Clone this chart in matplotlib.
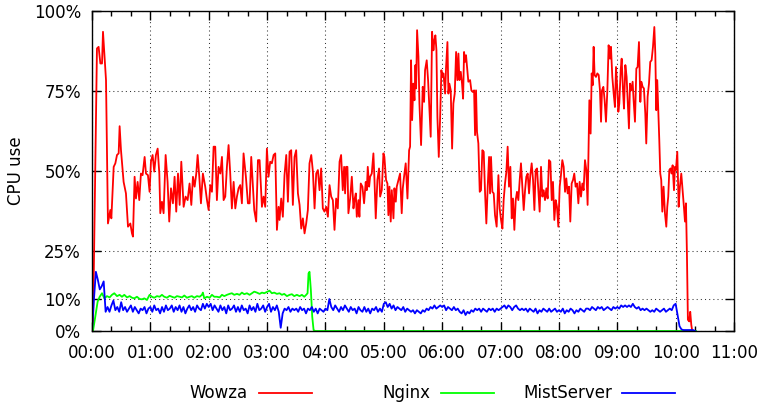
import numpy as np
import matplotlib
matplotlib.use("Agg")
import matplotlib.pyplot as plt
from matplotlib.lines import Line2D

# CPU use over a test run, time in minutes since 00:00, values in percent

# Wowza (red)
wowza_min = [
    0.0, 1.0, 5.1, 6.8, 8.6, 10.3, 11.3, 13.7, 14.4, 16.4,
    18.8, 19.9, 22.3, 24.0, 25.7, 27.4, 28.4, 29.8, 32.5, 34.9,
    37.0, 39.4, 41.1, 42.1, 43.8, 45.2, 46.9, 48.6, 50.3, 52.0,
    54.1, 55.5, 57.5, 59.2, 60.6, 62.3, 64.0, 65.7, 67.5, 69.2,
    70.2, 71.9, 73.6, 75.7, 77.7, 79.4, 81.2, 83.2, 84.9, 86.6,
    88.4, 90.1, 91.8, 94.2, 96.2, 98.3, 100.3, 102.1, 103.8, 105.5,
    107.2, 108.6, 110.3, 112.0, 114.0, 116.4, 118.2, 119.9, 121.6, 123.3,
    125.0, 126.7, 128.4, 130.1, 131.9, 133.6, 135.3, 137.0, 138.7, 140.4,
    142.1, 143.8, 145.6, 147.3, 149.0, 150.7, 152.4, 154.1, 155.8, 158.2,
    160.3, 162.0, 163.7, 165.4, 166.8, 168.8, 170.6, 172.3, 174.7, 176.4,
    178.1, 179.8, 181.5, 183.2, 184.9, 186.7, 188.4, 190.1, 191.8, 192.8,
    194.5, 196.2, 197.9, 199.7, 201.4, 203.1, 204.8, 206.5, 208.2, 209.9,
    211.7, 213.4, 215.1, 216.8, 218.5, 220.2, 221.9, 223.6, 225.4, 227.1,
    228.8, 230.5, 232.2, 233.9, 235.6, 237.3, 239.0, 240.8, 242.5, 244.2,
    245.9, 247.6, 249.3, 251.0, 252.7, 254.5, 256.1, 257.8, 259.2, 260.2,
    261.2, 262.6, 263.6, 265.4, 267.1, 268.8, 269.8, 271.2, 272.2, 273.9,
    274.9, 276.3, 278.0, 279.7, 281.4, 282.5, 283.5, 284.9, 285.9, 287.6,
    289.3, 290.4, 291.7, 293.4, 295.1, 296.2, 297.9, 299.6, 300.6, 302.3,
    303.7, 304.7, 305.8, 307.1, 308.2, 309.9, 310.9, 312.3, 313.3, 315.0,
    316.7, 318.4, 319.5, 320.8, 322.5, 324.3, 326.0, 327.0, 328.0, 329.1,
    330.4, 331.5, 332.5, 333.2, 334.2, 335.6, 336.6, 338.3, 340.0, 341.4,
    342.4, 344.1, 345.5, 346.9, 348.2, 349.6, 351.0, 352.0, 353.0, 354.1,
    355.1, 356.5, 357.8, 359.2, 360.2, 361.3, 363.0, 364.0, 365.4, 366.4,
    367.4, 368.8, 370.2, 371.5, 372.9, 374.3, 375.6, 376.7, 377.7, 379.1,
    380.4, 381.5, 382.5, 383.5, 384.5, 385.6, 386.9, 388.7, 390.0, 391.4,
    392.8, 393.8, 394.8, 395.8, 397.2, 398.6, 399.9, 401.3, 402.7, 404.1,
    405.4, 406.8, 408.2, 409.2, 410.2, 411.6, 413.0, 414.3, 416.0, 417.8,
    419.1, 420.5, 421.9, 423.2, 424.6, 426.0, 427.3, 428.7, 430.1, 431.5,
    432.8, 434.2, 435.6, 436.9, 438.3, 439.7, 441.0, 442.4, 443.8, 445.2,
    446.5, 447.9, 449.3, 450.6, 452.0, 453.4, 454.8, 456.1, 457.5, 458.9,
    460.2, 461.6, 463.0, 464.3, 465.7, 467.1, 468.4, 469.8, 471.2, 472.6,
    473.9, 475.3, 476.7, 478.0, 479.4, 480.8, 482.1, 483.5, 484.9, 486.3,
    487.6, 489.0, 490.4, 491.7, 493.1, 494.5, 495.8, 497.2, 498.6, 500.0,
    501.3, 502.7, 504.1, 505.4, 506.8, 508.2, 509.5, 511.3, 512.6, 513.7,
    514.7, 515.7, 516.7, 518.1, 519.5, 520.9, 522.2, 523.3, 524.3, 525.7,
    527.0, 528.4, 529.8, 531.1, 532.5, 533.5, 534.9, 536.3, 537.6, 538.7,
    540.0, 541.1, 542.1, 543.5, 544.5, 545.9, 546.9, 548.3, 549.6, 550.7,
    552.0, 553.1, 554.4, 555.8, 556.8, 558.2, 559.6, 560.9, 562.3, 563.7,
    564.7, 566.1, 567.4, 568.8, 569.8, 571.2, 572.6, 573.9, 575.3, 576.7,
    578.1, 579.1, 580.1, 581.1, 582.2, 583.2, 584.2, 585.2, 586.3, 587.6,
    589.0, 590.4, 591.4, 592.4, 593.5, 594.8, 595.9, 596.9, 598.3, 599.3,
    600.3, 601.7, 603.1, 604.4, 605.8, 607.2, 608.5, 609.6, 610.6, 611.6,
    612.6, 614.0, 615.0, 616.1, 617.1,
]
wowza_pct = [
    0, 0, 88.3, 88.8, 83.6, 83.6, 93.5, 81.5, 78.4, 33.6,
    37.8, 35.2, 51.3, 52.4, 55.0, 55.5, 64.0, 56.5, 46.6, 43.0,
    32.6, 33.6, 30.5, 29.5, 48.2, 41.4, 46.6, 40.9, 49.2, 48.7,
    54.4, 49.2, 48.7, 43.5, 52.9, 55.0, 49.8, 55.0, 57.0, 49.2,
    36.8, 40.4, 36.8, 55.0, 46.6, 34.2, 44.6, 39.9, 48.2, 37.3,
    49.2, 39.4, 52.9, 38.8, 42.0, 40.9, 46.1, 39.4, 48.2, 45.1,
    49.2, 55.0, 48.2, 39.9, 49.2, 45.1, 40.9, 37.8, 45.6, 43.5,
    57.6, 57.6, 40.9, 51.3, 49.2, 54.4, 40.9, 42.0, 51.3, 58.1,
    49.2, 38.3, 46.6, 38.3, 42.0, 44.6, 45.6, 39.9, 55.5, 48.2,
    39.9, 39.9, 54.4, 45.1, 37.8, 34.2, 53.4, 53.4, 38.8, 42.0,
    38.8, 57.0, 48.2, 52.9, 52.4, 55.0, 55.5, 31.6, 38.8, 34.7,
    41.4, 35.7, 48.7, 55.0, 40.4, 56.0, 56.5, 39.4, 54.4, 56.5,
    43.0, 39.4, 32.0, 35.2, 30.5, 33.6, 37.8, 52.4, 55.0, 49.8,
    38.3, 49.2, 50.3, 44.0, 50.8, 38.3, 37.3, 38.8, 35.7, 45.6,
    42.0, 40.9, 31.6, 41.4, 38.3, 52.9, 55.0, 44.0, 51.3, 43.0,
    51.3, 51.3, 36.8, 41.4, 48.2, 38.3, 40.9, 43.0, 35.7, 40.9,
    35.7, 46.1, 45.1, 39.9, 46.6, 44.0, 51.3, 45.1, 48.2, 49.2,
    55.5, 47.2, 35.2, 47.2, 50.8, 42.0, 44.0, 55.5, 54.4, 47.2,
    46.1, 36.2, 45.1, 34.2, 44.0, 35.2, 44.6, 40.4, 45.1, 47.2,
    49.2, 36.8, 44.6, 48.2, 52.4, 41.4, 56.5, 57.6, 84.6, 65.9,
    77.3, 72.1, 83.1, 75.8, 94.0, 85.7, 71.1, 58.1, 76.3, 71.6,
    81.5, 84.6, 78.4, 69.0, 60.7, 93.5, 87.7, 90.9, 92.4, 87.7,
    66.9, 54.4, 65.9, 81.5, 79.4, 80.5, 74.2, 82.5, 90.3, 74.2,
    77.3, 75.2, 57.0, 71.1, 74.2, 87.2, 78.4, 86.7, 78.4, 81.0,
    77.3, 72.6, 87.2, 84.1, 86.2, 82.5, 77.9, 78.4, 75.2, 74.7,
    75.2, 61.2, 75.2, 62.2, 58.6, 43.5, 44.0, 56.5, 56.0, 43.0,
    33.6, 45.1, 54.4, 43.0, 54.4, 43.5, 43.0, 36.2, 32.6, 48.7,
    38.3, 34.7, 32.0, 40.9, 46.1, 49.8, 57.6, 45.1, 51.3, 35.2,
    41.4, 31.6, 40.9, 43.5, 40.9, 47.2, 52.4, 45.1, 37.8, 44.0,
    48.2, 49.2, 43.0, 48.7, 52.4, 47.2, 37.8, 50.3, 50.8, 44.0,
    37.3, 51.3, 42.0, 44.0, 40.9, 44.6, 41.4, 53.4, 52.9, 40.9,
    46.6, 34.7, 40.9, 38.8, 32.6, 45.1, 48.7, 53.4, 51.3, 43.5,
    47.7, 43.0, 45.1, 34.2, 46.1, 47.2, 49.2, 45.1, 46.1, 39.9,
    46.6, 42.0, 46.1, 44.0, 53.4, 50.3, 39.4, 72.1, 61.7, 80.5,
    76.8, 88.8, 80.0, 79.4, 80.5, 80.0, 75.2, 65.4, 75.2, 76.3,
    72.1, 65.4, 75.2, 89.3, 85.1, 88.8, 79.4, 74.2, 70.0, 82.5,
    75.8, 68.5, 71.1, 81.5, 85.1, 75.2, 69.5, 83.1, 79.4, 72.1,
    63.3, 77.3, 75.2, 77.9, 72.1, 65.4, 82.0, 82.5, 90.3, 71.6,
    77.9, 76.3, 75.8, 68.0, 58.6, 73.2, 77.3, 84.1, 84.6, 88.8,
    95.0, 86.7, 69.0, 78.4, 68.5, 59.6, 49.2, 47.2, 37.3, 45.1,
    36.8, 32.6, 38.8, 42.0, 50.3, 50.8, 49.2, 51.8, 44.0, 51.3,
    50.3, 56.0, 38.8, 45.1, 49.2, 44.0, 38.8, 34.2, 39.9, 24.3,
    3.5, 3.0, 6.0, 1.9, 0.0,
]

# Nginx (green)
nginx_min = [
    0.0, 1.0, 3.4, 5.8, 7.9, 10.3, 12.7, 15.4, 18.1, 20.5,
    22.9, 25.7, 28.4, 30.8, 33.2, 36.0, 38.7, 41.1, 43.5, 46.2,
    49.0, 51.4, 53.8, 56.5, 59.2, 61.6, 64.0, 66.8, 69.5, 71.9,
    74.3, 77.1, 79.8, 82.2, 84.9, 87.3, 90.1, 92.5, 94.9, 97.6,
    100.3, 102.7, 105.1, 107.9, 110.6, 113.0, 114.0, 115.4, 118.2, 120.9,
    123.3, 125.7, 128.4, 131.2, 133.6, 136.0, 138.7, 141.4, 143.8, 146.2,
    149.0, 151.7, 154.1, 156.5, 159.3, 162.0, 164.4, 166.8, 169.5, 172.3,
    174.7, 177.1, 179.8, 182.5, 184.9, 187.3, 190.1, 192.8, 195.2, 197.6,
    200.4, 203.1, 205.5, 207.9, 210.6, 213.4, 215.8, 218.2, 220.2, 221.6,
    222.6, 223.6, 225.0, 226.4, 227.8, 229.5, 621.0,
]
nginx_pct = [
    0, 0, 4.5, 9.2, 10.7, 11.8, 10.2, 10.9, 10.5, 11.3,
    11.8, 10.9, 11.3, 10.7, 11.3, 10.5, 10.9, 10.4, 10.2, 10.7,
    10.0, 9.9, 10.2, 9.7, 11.3, 10.7, 10.4, 10.9, 10.7, 11.3,
    10.7, 10.4, 11.0, 10.7, 10.4, 10.9, 10.7, 10.5, 11.1, 10.4,
    10.7, 10.9, 10.4, 10.9, 10.7, 11.3, 12.0, 10.2, 10.7, 10.4,
    11.3, 10.7, 10.7, 10.5, 11.3, 10.9, 11.3, 11.6, 11.8, 11.3,
    11.6, 11.3, 12.0, 11.5, 11.8, 11.3, 11.8, 12.3, 12.0, 11.6,
    12.0, 11.8, 12.2, 12.6, 11.8, 12.0, 11.6, 11.8, 11.3, 11.6,
    10.9, 11.3, 11.5, 10.9, 11.3, 10.9, 11.3, 10.7, 11.3, 11.8,
    18.0, 18.5, 12.8, 4.5, 0.3, 0.0, 0.0,
]

# MistServer (blue), one sample every 2 minutes from 00:00
mist_step = 2
mist_pct = [
    0, 10, 18.5, 16, 13, 14, 15.5, 6, 7.5, 6, 8, 9.5, 6.5, 7.5, 6,
    9, 6.5, 7.5, 6, 7, 8, 6, 7.5, 6.5, 5.5, 7, 6.5, 7.5, 5.5, 7,
    7.5, 6, 8, 6.5, 7, 5.5, 7.5, 6, 8, 6.5, 7, 8, 6, 7.5, 6.5,
    8, 6, 7.5, 5.5, 7, 8, 6.5, 7.5, 6, 8, 7, 6.5, 8.5, 7, 8.5,
    7.5, 8.5, 6.5, 8, 7, 6, 8, 6.5, 7.5, 5.5, 8, 6.5, 7, 8, 6,
    7.5, 6, 8, 6.5, 7, 5.5, 8, 6.5, 7.5, 6, 8.5, 6.5, 7, 8, 6,
    7.5, 8.5, 6, 7.5, 6.5, 8, 6, 1, 5.5, 7, 6.5, 7.5, 6, 7, 6.5,
    7, 6, 7.5, 6.5, 7, 5.5, 7, 6.5, 7.5, 6, 7, 5.5, 7, 6.5, 6,
    7, 6.5, 10, 7.5, 6.5, 8, 7, 6, 7.5, 6.5, 8, 7, 6, 7.5, 6.5,
    7, 5.5, 7.5, 6.5, 6, 7.5, 6, 7, 5.5, 7, 6.5, 7.5, 6, 7, 6,
    8.5, 9, 7.5, 8.5, 7, 8, 6.5, 7.5, 7, 6.5, 7.5, 6, 7, 6.5, 6,
    6.5, 5.5, 6.5, 6, 5.5, 6.5, 6, 7, 6.5, 7.5, 7, 8, 7, 7.5, 8,
    7.5, 8, 6.5, 7.5, 7, 6.5, 7.5, 6.5, 7, 6, 5.5, 6.5, 5, 6, 5.5,
    6.5, 6, 7, 6.5, 7, 6, 7, 6.5, 6, 7, 6.5, 7, 6, 7, 6.5,
    7, 7.5, 8, 7, 8, 7.5, 6.5, 7.5, 8, 7, 6.5, 7, 6.5, 7, 6,
    7, 6.5, 6, 7, 5.5, 6.5, 6, 7, 6.5, 6, 7, 6, 6.5, 7, 6,
    6.5, 6, 7, 5.5, 6.5, 6, 7, 6.5, 5.5, 6.5, 6, 7, 6.5, 6, 7,
    7, 6.5, 7.5, 7, 6.5, 7.5, 7, 7.5, 6.5, 7, 7.5, 7, 6.5, 7.5, 7,
    7.5, 7, 8, 7.5, 8, 7.5, 8, 7.5, 8.5, 7.5, 7, 7.5, 6.5, 7, 6.5,
    7, 6.5, 6, 6.5, 6, 7, 6.5, 6, 6.5, 7, 6, 6.5, 7, 6.5, 8,
    8.5, 5, 1.5, 0.5, 0.3, 0.3, 0.3, 0.3, 0.3, 0.3, 0,
]
mist_min = np.arange(len(mist_pct)) * mist_step

hours = list(range(12))
y_ticks = [0, 10, 25, 50, 75, 100]

plt.rcParams['font.family'] = ['DejaVu Sans']
plt.rcParams['font.size'] = 12

W, H = 759, 407
fig = plt.figure(figsize=(W / 100, H / 100), dpi=100)
ax = fig.add_axes([92 / W, 76 / H, 642 / W, 320 / H])

ax.plot(wowza_min, wowza_pct, color='#ff0000', lw=1.3)
ax.plot(nginx_min, nginx_pct, color='#00ff00', lw=1.3)
ax.plot(mist_min, mist_pct, color='#0000ff', lw=1.3)

ax.set_xlim(0, 660)
ax.set_ylim(0, 100)
ax.set_xticks([h * 60 for h in hours])
ax.set_xticklabels([f"{h:02d}:00" for h in hours])
ax.set_xticks(np.arange(0, 661, 20), minor=True)
ax.set_yticks(y_ticks)
ax.set_yticklabels([f"{v}%" for v in y_ticks])

ax.tick_params(which='both', direction='in', top=True, right=True, width=1)
ax.tick_params(which='major', length=6.5)
ax.tick_params(which='minor', length=3.5)
ax.tick_params(axis='x', pad=9.5)
ax.tick_params(axis='y', pad=8)
for s in ax.spines.values():
    s.set_linewidth(1.0)

ax.grid(True, which='major', linestyle=(0, (1, 3)), linewidth=0.75, color='0.2')

fig.text(16 / W, 1 - 171 / H, "CPU use", rotation=90, ha='center', va='center')

# key below the plot: label, then line sample
key = [("Wowza", '#ff0000', 248, 259), ("Nginx", '#00ff00', 430, 441),
       ("MistServer", '#0000ff', 612, 622)]
for name, col, tx, lx in key:
    fig.text(tx / W, 1 - 398 / H, name, ha='right', va='baseline')
    fig.add_artist(Line2D([lx / W, (lx + 53) / W], [1 - 392.7 / H] * 2,
                          color=col, lw=1.3, transform=fig.transFigure))

fig.savefig("out.png", dpi=100)
